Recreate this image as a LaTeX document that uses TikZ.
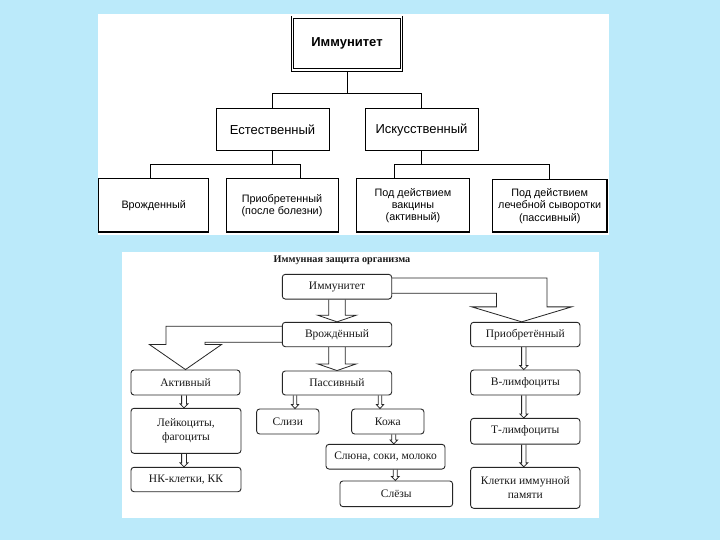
\documentclass[tikz,border=0pt]{standalone}
\usepackage{fontspec}
\setmainfont{Liberation Serif}
\newfontfamily\arialf{Liberation Sans}
\usetikzlibrary{calc}
\definecolor{bgblue}{RGB}{187,234,250}
\newcommand{\myharr}[5]{%
  \draw[bline] ($(#1)+(-#3,0)$) -- ($(#2)+(-#3,-#5)$) -- ($(#2)+(-#4,-#5)$) -- (#2)
    -- ($(#2)+(#4,-#5)$) -- ($(#2)+(#3,-#5)$) -- ($(#1)+(#3,0)$);}
\begin{document}
\begin{tikzpicture}[x=1pt,y=-1pt,
  tbox/.style={draw=black, line width=1pt, inner sep=0pt, align=center,
    font=\arialf\fontsize{10.8}{12.2}\selectfont},
  tbig/.style={tbox, font=\arialf\fontsize{13}{15}\selectfont},
  bbox/.style={draw=black!85, line width=0.9pt, rounded corners=3pt, inner sep=0pt,
    align=center, text=black!90, font=\fontsize{11.5}{14}\selectfont},
  tline/.style={draw=black, line width=1pt},
  bline/.style={draw=black!85, line width=0.8pt, line join=miter},
]
\fill[bgblue] (0,0) rectangle (720,540);
\useasboundingbox (0,0) rectangle (720,540);
\fill[white] (98,14) rectangle (609,235);
\fill[white] (122,252) rectangle (599,518);

% ---------- top panel ----------
\node[tbig, minimum width=108.8, minimum height=52.8, double, double distance=1.6pt,
  line width=0.8pt, font=\arialf\bfseries\fontsize{13}{15}\selectfont] (imm) at (347,43.7) {Иммунитет};
\node[tbig, minimum width=113, minimum height=42] (est) at (272.5,130) {Естественный};
\node[tbig, minimum width=113, minimum height=42] (isk) at (421.5,130) {Искусственный};

\node[tbox, minimum width=110, minimum height=53] (vro) at (153.7,205.5) {Врожденный};
\node[tbox, minimum width=112, minimum height=53] (pri) at (282,205.5) {Приобретенный\\(после болезни)};
\node[tbox, minimum width=113.6, minimum height=53] (vak) at (413,205.5) {Под действием\\вакцины\\(активный)};
\node[tbox, minimum width=113.6, minimum height=52] (syv) at (549.7,206) {Под действием\\лечебной сыворотки\\(пассивный)};
\draw[line width=2pt] (syv.north east) -- (syv.south east);

\draw[tline] ($(imm.south)+(0,1.6)$) -- ($(est.north)!0.5!(isk.north)+(0,-15)$);
\draw[tline] (est.north) -- ++(0,-15) -| (isk.north);
\draw[tline] (est.south) -- ++(0,14);
\draw[tline] ($(vro.north)+(-3.1,0)$) -- ++(0,-14) -- ($(pri.north)+(18.7,-14)$) -- ($(pri.north)+(18.7,0)$);
\draw[tline] (isk.south) -- ++(0,14);
\draw[tline] ($(vak.north)+(-18.9,0)$) -- ++(0,-14) -- ($(syv.north)+(0,-15)$) -- (syv.north);

% ---------- bottom panel ----------
\node[inner sep=0pt, text=black!90, font=\bfseries\fontsize{10.2}{12}\selectfont] (title) at (342,260) {Иммунная защита организма};

\node[bbox, minimum width=109.4, minimum height=24.7] (imm2) at (337,286.7) {Иммунитет};
\node[bbox, minimum width=109.4, minimum height=24.4] (vr2) at (337,334.5) {Врождённый};
\node[bbox, minimum width=109.4, minimum height=24] (pas) at (337,383) {Пассивный};
\node[bbox, minimum width=109, minimum height=25] (akt) at (185.5,382.5) {Активный};
\node[bbox, minimum width=110, minimum height=45] (leik) at (186,430.8) {Лейкоциты,\\фагоциты};
\node[bbox, minimum width=110, minimum height=24.4] (nk) at (186,479.5) {НК-клетки, КК};
\node[bbox, minimum width=62.3, minimum height=25] (sliz) at (287.8,421.5) {Слизи};
\node[bbox, minimum width=72.3, minimum height=25] (koz) at (387.8,421.5) {Кожа};
\node[bbox, minimum width=119, minimum height=24.7] (slu) at (385.5,456.7) {Слюна, соки, молоко};
\node[bbox, minimum width=112.7, minimum height=25.7] (sle) at (396.3,493.8) {Слёзы};
\node[bbox, minimum width=109.3, minimum height=24.4] (pri2) at (525.3,334.5) {Приобретённый};
\node[bbox, minimum width=109.3, minimum height=25] (bl) at (525.3,382.5) {В-лимфоциты};
\node[bbox, minimum width=109.3, minimum height=25.7] (tl) at (525.3,431.2) {Т-лимфоциты};
\node[bbox, minimum width=109.3, minimum height=41] (kl) at (525.3,487.8) {Клетки иммунной\\памяти};

% big hollow arrows
\myharr{imm2.south}{vr2.north}{8.3}{19.2}{6.6}
\myharr{vr2.south}{pas.north}{8.3}{19.2}{6.6}

% bent hollow arrow to Активный
\draw[bline] ($(vr2.north west)+(0,4.4)$) -| ($(akt.north)+(-19.5,-25)$) -- ($(akt.north)+(-36,-25)$)
  -- (akt.north) -- ($(akt.north)+(36,-25)$) -- ($(akt.north)+(19.5,-25)$) |- ($(vr2.south west)+(0,-5)$);

% bent hollow arrow to Приобретённый
\coordinate (tipB) at ($(pri2.north)+(-3.6,0)$);
\draw[bline] ($(imm2.north east)+(0,4)$) -| ($(tipB)+(25.3,-15)$) -- ($(tipB)+(50,-15)$)
  -- (tipB) -- ($(tipB)+(-50,-15)$) -- ($(tipB)+(-25.3,-15)$) |- ($(imm2.south east)+(0,-6.3)$);

% thin hollow arrows
\coordinate (s3) at ($(akt.south)+(-1.5,0)$);   \coordinate (t3) at (s3 |- leik.north);
\coordinate (s4) at ($(leik.south)+(-2,0)$);    \coordinate (t4) at (s4 |- nk.north);
\coordinate (s5) at ($(pas.south)+(-42,0)$);    \coordinate (t5) at (s5 |- sliz.north);
\coordinate (s6) at ($(pas.south)+(43,0)$);     \coordinate (t6) at (s6 |- koz.north);
\coordinate (s7) at ($(koz.south)+(6,0)$);      \coordinate (t7) at (s7 |- slu.north);
\coordinate (s8) at ($(slu.south)+(9.8,0)$);    \coordinate (t8) at (s8 |- sle.north);
\coordinate (s9) at ($(pri2.south)+(-1.5,0)$);  \coordinate (t9) at (s9 |- bl.north);
\coordinate (s10) at ($(bl.south)+(-1.5,0)$);   \coordinate (t10) at (s10 |- tl.north);
\coordinate (s11) at ($(tl.south)+(-1.5,0)$);   \coordinate (t11) at (s11 |- kl.north);
\myharr{s3}{t3}{2.4}{4}{4}
\myharr{s4}{t4}{2.4}{4}{4}
\myharr{s5}{t5}{1.8}{3.6}{4}
\myharr{s6}{t6}{1.8}{3.6}{4}
\myharr{s7}{t7}{2}{3.8}{4}
\myharr{s8}{t8}{2}{3.8}{4}
\myharr{s9}{t9}{2.2}{4}{4}
\myharr{s10}{t10}{2.2}{4}{4}
\myharr{s11}{t11}{2.2}{4}{4}
\end{tikzpicture}
\end{document}
